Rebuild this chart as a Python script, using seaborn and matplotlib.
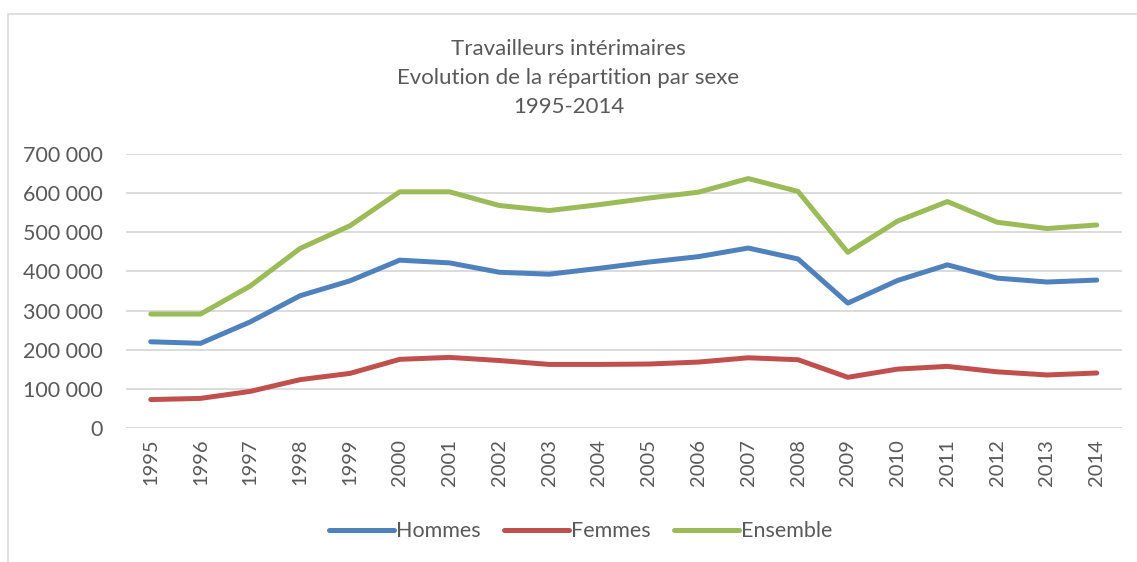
import numpy as np
import pandas as pd
import seaborn as sns
import matplotlib.pyplot as plt
from matplotlib.ticker import FuncFormatter
from matplotlib.lines import Line2D

sns.set_theme(style="white")
plt.rcParams['font.family'] = ['Lato', 'DejaVu Sans']

years = list(range(1995, 2015))
hommes = [220000, 216000, 271000, 338000, 376000, 429000, 422000, 398000, 393000, 408000,
          424000, 438000, 460000, 432000, 319000, 377000, 417000, 383000, 373000, 378000]
femmes = [72000, 75000, 93000, 123000, 139000, 175000, 180000, 172000, 162000, 162000,
          163000, 168000, 179000, 174000, 129000, 150000, 157000, 143000, 135000, 140000]
ensemble = [291000, 291000, 363000, 459000, 517000, 604000, 604000, 569000, 556000, 571000,
            588000, 603000, 638000, 605000, 449000, 529000, 579000, 526000, 510000, 519000]
series_names = ["Hommes", "Femmes", "Ensemble"]
colors = ["#4F81BD", "#C0504D", "#9BBB59"]
title = "Travailleurs intérimaires\nEvolution de la répartition par sexe\n1995-2014"

df = pd.DataFrame({"Année": [str(y) for y in years], "Hommes": hommes,
                   "Femmes": femmes, "Ensemble": ensemble})
long = df.melt(id_vars="Année", var_name="Série", value_name="Valeur")

txt = "#595959"
fig = plt.figure(figsize=(11.37, 5.62), dpi=100)
ax = fig.add_axes([0.1107, 0.239, 0.8758, 0.4864])

sns.lineplot(data=long, x="Année", y="Valeur", hue="Série", hue_order=series_names,
             palette=colors, linewidth=3.6, ax=ax, legend=False, sort=False)
for l in ax.lines:
    l.set_solid_capstyle("round")
    l.set_solid_joinstyle("round")

ax.set_xlim(-0.5, len(years) - 0.5)
ax.set_ylim(0, 700000)
ax.set_yticks(np.arange(0, 700001, 100000))
ax.yaxis.set_major_formatter(FuncFormatter(lambda v, p: f"{int(v):,}".replace(",", " ")))
ax.grid(axis="y", color="#D9D9D9", linewidth=1.3)
ax.set_axisbelow(True)
for s in ax.spines.values():
    s.set_visible(False)
ax.set_xlabel("")
ax.set_ylabel("")
ax.tick_params(axis="y", labelsize=15.5, labelcolor=txt, pad=16.5, length=0)
ax.tick_params(axis="x", labelsize=14.5, labelcolor=txt, pad=8, length=0, rotation=90)

fig.text(0.5, 0.861, title, ha="center", va="center", fontsize=16, color=txt,
         linespacing=1.55)

handles = [Line2D([0], [0], color=c, lw=3.6, solid_capstyle="round") for c in colors]
fig.legend(handles, series_names, loc="center", bbox_to_anchor=(0.511, 0.055), ncol=3,
           frameon=False, fontsize=15.5, labelcolor=txt, handlelength=3.0,
           handletextpad=0.1, columnspacing=1.1)

# chart border (top and left edges visible)
fig.add_artist(Line2D([8 / 1137, 1.0], [1 - 14 / 562, 1 - 14 / 562],
                      transform=fig.transFigure, color="#D9D9D9", lw=1.2))
fig.add_artist(Line2D([8 / 1137, 8 / 1137], [0, 1 - 14 / 562],
                      transform=fig.transFigure, color="#D9D9D9", lw=1.2))

fig.savefig("out.png", dpi=100)
